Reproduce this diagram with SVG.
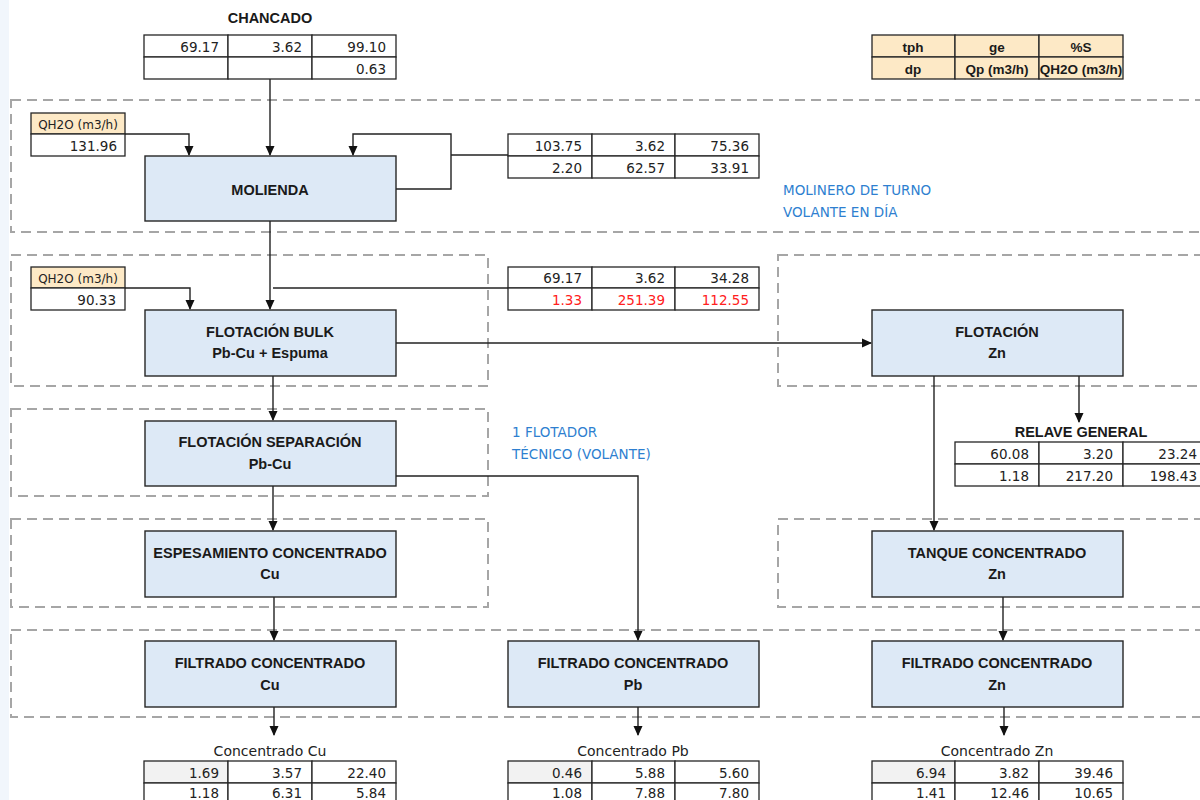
<svg xmlns="http://www.w3.org/2000/svg" width="1200" height="800" viewBox="0 0 1200 800">
<defs>
<marker id="ah" markerUnits="userSpaceOnUse" markerWidth="10" markerHeight="10" refX="9" refY="5" orient="auto"><path d="M0,0.5 L10,5 L0,9.5 Z" fill="#111"/></marker>
<style>
.bg{fill:#fff}
.zone{fill:none;stroke:#a6a6a6;stroke-width:2;stroke-dasharray:10,6}
.node{fill:#dde9f6;stroke:#262626;stroke-width:1.4}
.cell{fill:#fff;stroke:#262626;stroke-width:1.3}
.hdr{fill:#fde9c6;stroke:#262626;stroke-width:1.3}
.gray{fill:#f2f2f2;stroke:#262626;stroke-width:1.3}
.title{font-family:"Liberation Sans",Arial,sans-serif;font-weight:bold;font-size:14.5px;fill:#1a1a1a;text-anchor:middle}
.num{font-family:"DejaVu Sans",Verdana,sans-serif;font-size:13.5px;fill:#222;text-anchor:end}
.red{fill:#ff2020}
.small{font-family:"DejaVu Sans",Verdana,sans-serif;font-size:12px;fill:#222;text-anchor:middle}
.leg{font-family:"Liberation Sans",Arial,sans-serif;font-weight:bold;font-size:13.5px;fill:#1a1a1a;text-anchor:middle}
.cap{font-family:"DejaVu Sans",Verdana,sans-serif;font-size:14px;fill:#222;text-anchor:middle}
.note{font-family:"DejaVu Sans",Verdana,sans-serif;font-size:13.5px;fill:#2e7fd0}
.ln{fill:none;stroke:#222;stroke-width:1.4}
</style>
</defs>
<rect class="bg" x="0" y="0" width="1200" height="800"/>
<rect x="0" y="0" width="9" height="800" fill="#f1f6fc"/>

<g id="zones">
<rect class="zone" x="11" y="100" width="1200" height="132"/>
<rect class="zone" x="11" y="255" width="477" height="131"/>
<rect class="zone" x="778" y="255" width="440" height="131"/>
<rect class="zone" x="11" y="409" width="477" height="87"/>
<rect class="zone" x="11" y="519" width="477" height="88"/>
<rect class="zone" x="778" y="519" width="440" height="88"/>
<rect class="zone" x="11" y="630" width="1200" height="87"/>
</g>

<g id="connectors">
<path class="ln" d="M270,78 V155" marker-end="url(#ah)"/>
<path class="ln" d="M125,134 H189 V155" marker-end="url(#ah)"/>
<path class="ln" d="M396,189 H451 V134 H353 V155" marker-end="url(#ah)"/>
<path class="ln" d="M451,155 H508"/>
<path class="ln" d="M270,221 V309" marker-end="url(#ah)"/>
<path class="ln" d="M125,288 H190 V309" marker-end="url(#ah)"/>
<path class="ln" d="M273,288 H508"/>
<path class="ln" d="M396,343 H871" marker-end="url(#ah)"/>
<path class="ln" d="M273,376 V420" marker-end="url(#ah)"/>
<path class="ln" d="M396,476 H638 V640" marker-end="url(#ah)"/>
<path class="ln" d="M273,486 V530" marker-end="url(#ah)"/>
<path class="ln" d="M274,596 V640" marker-end="url(#ah)"/>
<path class="ln" d="M934,376 V530" marker-end="url(#ah)"/>
<path class="ln" d="M1079,376 V422" marker-end="url(#ah)"/>
<path class="ln" d="M1003,596 V640" marker-end="url(#ah)"/>
<path class="ln" d="M274,706 V735" marker-end="url(#ah)"/>
<path class="ln" d="M638,706 V735" marker-end="url(#ah)"/>
<path class="ln" d="M1004,706 V735" marker-end="url(#ah)"/>
</g>

<g id="chancado">
<text class="title" x="270" y="23">CHANCADO</text>
<rect class="cell" x="144" y="35" width="84" height="22"/><rect class="cell" x="228" y="35" width="84" height="22"/><rect class="cell" x="312" y="35" width="84" height="22"/>
<rect class="cell" x="144" y="57" width="84" height="22"/><rect class="cell" x="228" y="57" width="84" height="22"/><rect class="cell" x="312" y="57" width="84" height="22"/>
<text class="num" x="219" y="52">69.17</text><text class="num" x="302" y="52">3.62</text><text class="num" x="386" y="52">99.10</text>
<text class="num" x="386" y="74">0.63</text>
</g>

<g id="legend">
<rect class="hdr" x="872" y="35" width="83" height="22"/><rect class="hdr" x="955" y="35" width="84" height="22"/><rect class="hdr" x="1039" y="35" width="84" height="22"/>
<rect class="hdr" x="872" y="57" width="83" height="22"/><rect class="hdr" x="955" y="57" width="84" height="22"/><rect class="hdr" x="1039" y="57" width="84" height="22"/>
<text class="leg" x="913" y="52">tph</text><text class="leg" x="997" y="52">ge</text><text class="leg" x="1081" y="52">%S</text>
<text class="leg" x="913" y="74">dp</text><text class="leg" x="997" y="74">Qp (m3/h)</text><text class="leg" x="1081" y="74">QH2O (m3/h)</text>
</g>

<g id="agua1">
<rect class="hdr" x="31" y="113" width="94" height="21"/>
<rect class="cell" x="31" y="134" width="94" height="22"/>
<text class="small" x="78" y="129">QH2O (m3/h)</text>
<text class="num" x="117" y="151">131.96</text>
</g>

<g id="recirculacion">
<rect class="cell" x="508" y="134" width="84" height="22"/><rect class="cell" x="592" y="134" width="83" height="22"/><rect class="cell" x="675" y="134" width="84" height="22"/>
<rect class="cell" x="508" y="156" width="84" height="22"/><rect class="cell" x="592" y="156" width="83" height="22"/><rect class="cell" x="675" y="156" width="84" height="22"/>
<text class="num" x="582" y="151">103.75</text><text class="num" x="665" y="151">3.62</text><text class="num" x="749" y="151">75.36</text>
<text class="num" x="582" y="173">2.20</text><text class="num" x="665" y="173">62.57</text><text class="num" x="749" y="173">33.91</text>
</g>

<g id="molienda">
<rect class="node" x="145" y="156" width="251" height="65"/>
<text class="title" x="270" y="195">MOLIENDA</text>
</g>

<g id="nota1">
<text class="note" x="783" y="195">MOLINERO DE TURNO</text>
<text class="note" x="783" y="217">VOLANTE EN DÍA</text>
</g>

<g id="agua2">
<rect class="hdr" x="31" y="267" width="94" height="21"/>
<rect class="cell" x="31" y="288" width="94" height="22"/>
<text class="small" x="78" y="283">QH2O (m3/h)</text>
<text class="num" x="116" y="305">90.33</text>
</g>

<g id="alimento-bulk">
<rect class="cell" x="508" y="267" width="84" height="21"/><rect class="cell" x="592" y="267" width="83" height="21"/><rect class="cell" x="675" y="267" width="84" height="21"/>
<rect class="cell" x="508" y="288" width="84" height="22"/><rect class="cell" x="592" y="288" width="83" height="22"/><rect class="cell" x="675" y="288" width="84" height="22"/>
<text class="num" x="582" y="283">69.17</text><text class="num" x="665" y="283">3.62</text><text class="num" x="749" y="283">34.28</text>
<text class="num red" x="582" y="305">1.33</text><text class="num red" x="665" y="305">251.39</text><text class="num red" x="749" y="305">112.55</text>
</g>

<g id="flotacion-bulk">
<rect class="node" x="145" y="310" width="251" height="66"/>
<text class="title" x="270" y="337">FLOTACIÓN BULK</text>
<text class="title" x="270" y="358">Pb-Cu + Espuma</text>
</g>

<g id="flotacion-zn">
<rect class="node" x="872" y="310" width="251" height="66"/>
<text class="title" x="997" y="337">FLOTACIÓN</text>
<text class="title" x="997" y="358">Zn</text>
</g>

<g id="flotacion-separacion">
<rect class="node" x="145" y="421" width="251" height="65"/>
<text class="title" x="270" y="447">FLOTACIÓN SEPARACIÓN</text>
<text class="title" x="270" y="469">Pb-Cu</text>
</g>

<g id="nota2">
<text class="note" x="512" y="437">1 FLOTADOR</text>
<text class="note" x="512" y="459">TÉCNICO (VOLANTE)</text>
</g>

<g id="relave">
<text class="title" x="1081" y="437">RELAVE GENERAL</text>
<rect class="cell" x="955" y="442" width="84" height="22"/><rect class="cell" x="1039" y="442" width="84" height="22"/><rect class="cell" x="1123" y="442" width="84" height="22"/>
<rect class="cell" x="955" y="464" width="84" height="22"/><rect class="cell" x="1039" y="464" width="84" height="22"/><rect class="cell" x="1123" y="464" width="84" height="22"/>
<text class="num" x="1029" y="459">60.08</text><text class="num" x="1113" y="459">3.20</text><text class="num" x="1197" y="459">23.24</text>
<text class="num" x="1029" y="481">1.18</text><text class="num" x="1113" y="481">217.20</text><text class="num" x="1197" y="481">198.43</text>
</g>

<g id="espesamiento-cu">
<rect class="node" x="145" y="531" width="251" height="66"/>
<text class="title" x="270" y="558">ESPESAMIENTO CONCENTRADO</text>
<text class="title" x="270" y="579">Cu</text>
</g>

<g id="tanque-zn">
<rect class="node" x="872" y="531" width="251" height="66"/>
<text class="title" x="997" y="558">TANQUE CONCENTRADO</text>
<text class="title" x="997" y="579">Zn</text>
</g>

<g id="filtrado-cu">
<rect class="node" x="145" y="641" width="251" height="66"/>
<text class="title" x="270" y="668">FILTRADO CONCENTRADO</text>
<text class="title" x="270" y="690">Cu</text>
</g>

<g id="filtrado-pb">
<rect class="node" x="508" y="641" width="251" height="66"/>
<text class="title" x="633" y="668">FILTRADO CONCENTRADO</text>
<text class="title" x="633" y="690">Pb</text>
</g>

<g id="filtrado-zn">
<rect class="node" x="872" y="641" width="251" height="66"/>
<text class="title" x="997" y="668">FILTRADO CONCENTRADO</text>
<text class="title" x="997" y="690">Zn</text>
</g>

<g id="concentrado-cu">
<text class="cap" x="270" y="756">Concentrado Cu</text>
<rect class="gray" x="144" y="761" width="84" height="22"/><rect class="cell" x="228" y="761" width="84" height="22"/><rect class="cell" x="312" y="761" width="84" height="22"/>
<rect class="cell" x="144" y="783" width="84" height="22"/><rect class="cell" x="228" y="783" width="84" height="22"/><rect class="cell" x="312" y="783" width="84" height="22"/>
<text class="num" x="219" y="778">1.69</text><text class="num" x="302" y="778">3.57</text><text class="num" x="386" y="778">22.40</text>
<text class="num" x="219" y="798">1.18</text><text class="num" x="302" y="798">6.31</text><text class="num" x="386" y="798">5.84</text>
</g>

<g id="concentrado-pb">
<text class="cap" x="633" y="756">Concentrado Pb</text>
<rect class="gray" x="508" y="761" width="84" height="22"/><rect class="cell" x="592" y="761" width="83" height="22"/><rect class="cell" x="675" y="761" width="84" height="22"/>
<rect class="cell" x="508" y="783" width="84" height="22"/><rect class="cell" x="592" y="783" width="83" height="22"/><rect class="cell" x="675" y="783" width="84" height="22"/>
<text class="num" x="582" y="778">0.46</text><text class="num" x="665" y="778">5.88</text><text class="num" x="749" y="778">5.60</text>
<text class="num" x="582" y="798">1.08</text><text class="num" x="665" y="798">7.88</text><text class="num" x="749" y="798">7.80</text>
</g>

<g id="concentrado-zn">
<text class="cap" x="997" y="756">Concentrado Zn</text>
<rect class="gray" x="872" y="761" width="83" height="22"/><rect class="cell" x="955" y="761" width="84" height="22"/><rect class="cell" x="1039" y="761" width="84" height="22"/>
<rect class="cell" x="872" y="783" width="83" height="22"/><rect class="cell" x="955" y="783" width="84" height="22"/><rect class="cell" x="1039" y="783" width="84" height="22"/>
<text class="num" x="946" y="778">6.94</text><text class="num" x="1029" y="778">3.82</text><text class="num" x="1113" y="778">39.46</text>
<text class="num" x="946" y="798">1.41</text><text class="num" x="1029" y="798">12.46</text><text class="num" x="1113" y="798">10.65</text>
</g>
</svg>
